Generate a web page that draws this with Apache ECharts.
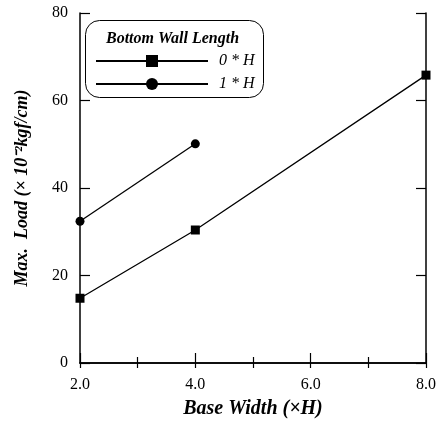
<!DOCTYPE html>
<html><head><meta charset="utf-8">
<script src="https://cdn.jsdelivr.net/npm/echarts@6/dist/echarts.min.js"></script>
<style>html,body{margin:0;padding:0;background:#fff}#c{width:439px;height:424px}</style>
</head><body><div id="c"></div>
<script>
var xTicks = [2, 4, 6, 8];
var series0Name = '0 * H';
var series1Name = '1 * H';
var series0X = [2, 4, 8];
var series0Y = [14.8, 30.4, 65.8];
var series1X = [2, 4];
var series1Y = [32.4, 50.1];
var legendTitle = 'Bottom Wall Length';
var xName = 'Base Width (\u00d7H)';
var yName = 'Max.  Load (\u00d7 10\u207b\u00b2kgf/cm)';

function pairs(xs, ys){ return xs.map(function(x,i){return [x, ys[i]];}); }
var font = 'Liberation Serif';
var chart = echarts.init(document.getElementById('c'));
var axisLine = {show:true, lineStyle:{color:'#000', width:1.5}};
chart.setOption({
  animation:false,
  grid:{left:80, right:12, top:13, bottom:60},
  xAxis:[{
    type:'value', min:2, max:8, interval:2, position:'bottom',
    axisLine:axisLine,
    axisTick:{show:true, inside:true, length:10, lineStyle:{color:'#000', width:1.2}},
    minorTick:{show:true, splitNumber:2, length:6, lineStyle:{color:'#000', width:1.2}},
    splitLine:{show:false},
    axisLabel:{color:'#000', fontFamily:font, fontSize:16, margin:14, formatter:function(v){return v.toFixed(1);}},
    name:xName, nameLocation:'middle', nameGap:36,
    nameTextStyle:{color:'#000', fontFamily:font, fontSize:20, fontWeight:'bold', fontStyle:'italic'}
  },{
    type:'value', min:2, max:8, interval:1, position:'top',
    axisLine:axisLine,
    axisTick:{show:true, inside:true, length:5, lineStyle:{color:'#000', width:1.2}},
    axisLabel:{show:false}, splitLine:{show:false}
  }],
  yAxis:[{
    type:'value', min:0, max:80, interval:20, position:'left',
    axisLine:axisLine,
    axisTick:{show:true, inside:true, length:10, lineStyle:{color:'#000', width:1.2}},
    splitLine:{show:false},
    axisLabel:{color:'#000', fontFamily:font, fontSize:16, margin:12},
    name:yName, nameLocation:'middle', nameGap:49,
    nameTextStyle:{color:'#000', fontFamily:font, fontSize:18, fontWeight:'bold', fontStyle:'italic'}
  },{
    type:'value', min:0, max:80, interval:20, position:'right',
    axisLine:axisLine,
    axisTick:{show:true, inside:true, length:10, lineStyle:{color:'#000', width:1.2}},
    axisLabel:{show:false}, splitLine:{show:false}
  }],
  graphic:[{
    type:'rect', left:85, top:20, z:3,
    shape:{width:178, height:77, r:14},
    style:{fill:'#fff', stroke:'#000', lineWidth:1}
  },{
    type:'text', left:106, top:31, z:5,
    style:{text:legendTitle, fill:'#000', font:'italic bold 16px "Liberation Serif"'}
  }],
  legend:{
    orient:'vertical', left:90, top:48, itemGap:7, itemWidth:112, itemHeight:15,
    z:6,
    data:[series0Name, series1Name],
    textStyle:{color:'#000', fontFamily:font, fontSize:16, fontStyle:'italic', padding:[0,0,0,6]}
  },
  series:[{
    name:series0Name, type:'line', data:pairs(series0X, series0Y),
    symbol:'rect', symbolSize:9,
    lineStyle:{color:'#000', width:1.3}, itemStyle:{color:'#000'}
  },{
    name:series1Name, type:'line', data:pairs(series1X, series1Y),
    symbol:'circle', symbolSize:9,
    lineStyle:{color:'#000', width:1.3}, itemStyle:{color:'#000'}
  }]
});
</script></body></html>
